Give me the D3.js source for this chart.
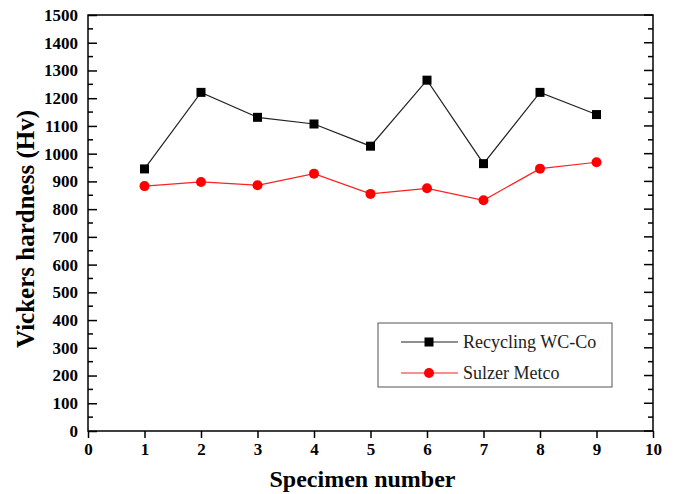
<!DOCTYPE html>
<html>
<head>
<meta charset="utf-8">
<script src="https://cdn.jsdelivr.net/npm/d3@7"></script>
<style>
  body { margin: 0; background: #fff; }
  svg { display: block; }
  svg text { font-family: "Liberation Serif", "DejaVu Serif", serif; }
</style>
</head>
<body>
<script>
const specimens = [1, 2, 3, 4, 5, 6, 7, 8, 9];
const recycling = [945, 1221, 1131, 1107, 1027, 1265, 964, 1221, 1141];
const sulzer = [883, 898, 886, 928, 855, 875, 832, 946, 969];
const xTicks = [0, 1, 2, 3, 4, 5, 6, 7, 8, 9, 10];
const yTicks = d3.range(0, 1501, 100);
const yMinor = d3.range(50, 1500, 100);
const seriesNames = ["Recycling WC-Co", "Sulzer Metco"];

const width = 676, height = 494;
const m = { left: 88, right: 23, top: 15, bottom: 63 };
const serif = "'Liberation Serif', 'DejaVu Serif', serif";

const svg = d3.select("body").append("svg")
    .attr("width", width)
    .attr("height", height);

const x = d3.scaleLinear().domain([0, 10]).range([m.left, width - m.right]);
const y = d3.scaleLinear().domain([0, 1500]).range([height - m.bottom, m.top]);

// frame
svg.append("rect")
    .attr("x", x(0)).attr("y", y(1500))
    .attr("width", x(10) - x(0)).attr("height", y(0) - y(1500))
    .attr("fill", "none").attr("stroke", "#000").attr("stroke-width", 1.5);

// bottom axis, ticks outward
const xAxis = svg.append("g")
    .attr("transform", `translate(0,${y(0)})`)
    .call(d3.axisBottom(x).tickValues(xTicks).tickSize(7).tickPadding(5).tickFormat(d3.format("d")))
    .attr("font-family", serif).attr("font-size", 17).attr("font-weight", "bold");
xAxis.select(".domain").remove();
xAxis.selectAll("line").attr("stroke-width", 1.5);
xAxis.selectAll("text").attr("fill", "#000");

// left axis, ticks inward
const yAxis = svg.append("g")
    .attr("transform", `translate(${x(0)},0)`)
    .call(d3.axisLeft(y).tickValues(yTicks).tickSize(-9).tickPadding(10).tickFormat(d3.format("d")))
    .attr("font-family", serif).attr("font-size", 17).attr("font-weight", "bold");
yAxis.select(".domain").remove();
yAxis.selectAll("line").attr("stroke-width", 1.5);
yAxis.selectAll("text").attr("fill", "#000");

// minor ticks left and right
[[x(0), 5], [x(10), -5]].forEach(([px, len]) => {
  svg.append("g").selectAll("line").data(yMinor).join("line")
      .attr("x1", px).attr("x2", px + len)
      .attr("y1", d => y(d)).attr("y2", d => y(d))
      .attr("stroke", "#000").attr("stroke-width", 1.5);
});
// right axis major ticks
svg.append("g").selectAll("line").data(yTicks).join("line")
    .attr("x1", x(10)).attr("x2", x(10) - 9)
    .attr("y1", d => y(d)).attr("y2", d => y(d))
    .attr("stroke", "#000").attr("stroke-width", 1.5);

// axis titles
svg.append("text")
    .attr("x", (x(0) + x(10)) / 2 - 8).attr("y", 487)
    .attr("text-anchor", "middle")
    .attr("font-weight", "bold").attr("font-size", 24)
    .text("Specimen number");
svg.append("text")
    .attr("transform", `translate(34,${(y(0) + y(1500)) / 2 + 6}) rotate(-90)`)
    .attr("text-anchor", "middle")
    .attr("font-weight", "bold").attr("font-size", 25)
    .text("Vickers hardness (Hv)");

const line = d3.line().x((d, i) => x(specimens[i])).y(d => y(d));

// black series
svg.append("path").datum(recycling)
    .attr("d", line).attr("fill", "none").attr("stroke", "#222").attr("stroke-width", 1.2);
svg.append("g").selectAll("rect").data(recycling).join("rect")
    .attr("x", (d, i) => x(specimens[i]) - 4.5).attr("y", d => y(d) - 4.5)
    .attr("width", 9).attr("height", 9).attr("fill", "#000");

// red series
svg.append("path").datum(sulzer)
    .attr("d", line).attr("fill", "none").attr("stroke", "#ff2020").attr("stroke-width", 1.2);
svg.append("g").selectAll("circle").data(sulzer).join("circle")
    .attr("cx", (d, i) => x(specimens[i])).attr("cy", d => y(d))
    .attr("r", 5).attr("fill", "#ff0000");

// legend
const lg = svg.append("g");
lg.append("rect")
    .attr("x", 378).attr("y", 323).attr("width", 234).attr("height", 64)
    .attr("fill", "#fff").attr("stroke", "#555").attr("stroke-width", 1);
const colors = ["#222", "#ff2020"];
seriesNames.forEach((name, i) => {
  const ly = 342 + i * 31;
  lg.append("line")
      .attr("x1", 401).attr("x2", 458).attr("y1", ly).attr("y2", ly)
      .attr("stroke", colors[i]).attr("stroke-width", 1.2);
  if (i === 0) {
    lg.append("rect").attr("x", 429 - 4.5).attr("y", ly - 4.5)
        .attr("width", 9).attr("height", 9).attr("fill", "#000");
  } else {
    lg.append("circle").attr("cx", 429).attr("cy", ly).attr("r", 5).attr("fill", "#ff0000");
  }
  lg.append("text")
      .attr("x", 463).attr("y", ly + 6)
      .attr("font-size", 18).attr("fill", "#222")
      .text(name);
});
</script>
</body>
</html>
